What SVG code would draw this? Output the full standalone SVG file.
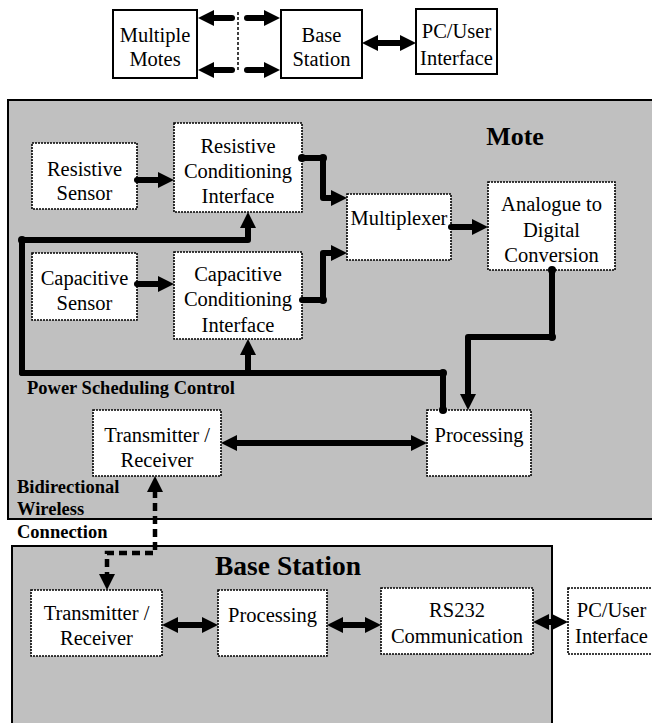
<svg xmlns="http://www.w3.org/2000/svg" width="652" height="723" viewBox="0 0 652 723">
<style>
.bg{fill:#c0c0c0;stroke:#000;stroke-width:2}
.sb{fill:#fff;stroke:#000;stroke-width:2}
.db{fill:#fff;stroke:#000;stroke-width:1.6;stroke-dasharray:2 1}
.t{font-family:"Liberation Serif","Times New Roman",serif;font-size:20.5px;fill:#000;text-anchor:middle}
.b{font-family:"Liberation Serif","Times New Roman",serif;font-weight:bold;fill:#000}
.c{fill:none;stroke:#000;stroke-width:6;stroke-linejoin:round;stroke-linecap:round}
.w{fill:none;stroke:#000;stroke-width:4.5;stroke-dasharray:8 5}
.thin{fill:none;stroke:#000;stroke-width:1.5;stroke-dasharray:3 2}
.dot{fill:#000}
</style>
<defs>
<marker id="ah" markerUnits="userSpaceOnUse" markerWidth="16" markerHeight="16" refX="2" refY="8" orient="auto-start-reverse" viewBox="0 0 16 16">
<path d="M0,0 L16,8 L0,16 z" fill="#000"/>
</marker>
</defs>
<rect class="bg" x="8" y="100" width="660" height="419"/>
<rect class="bg" x="12" y="546" width="540" height="200"/>
<text class="b" x="515" y="145" font-size="26" text-anchor="middle">Mote</text>
<text class="b" x="288" y="575" font-size="27.5" text-anchor="middle">Base Station</text>
<text class="b" x="27" y="394" font-size="18.5">Power Scheduling Control</text>
<text class="b" x="17" y="493" font-size="18.5">Bidirectional</text>
<text class="b" x="17" y="515" font-size="18.5">Wireless</text>
<text class="b" x="17" y="538" font-size="18.5">Connection</text>

<g id="top-motes"><rect class="sb" x="113" y="10" width="84" height="68"/><text class="t" x="155" y="42">Multiple</text><text class="t" x="155" y="66">Motes</text></g>
<g id="top-base"><rect class="sb" x="281" y="10" width="81" height="68"/><text class="t" x="321.5" y="42">Base</text><text class="t" x="321.5" y="66">Station</text></g>
<g id="top-pc"><rect class="sb" x="416" y="9" width="81" height="65"/><text class="t" x="456.5" y="38">PC/User</text><text class="t" x="456.5" y="65">Interface</text></g>

<g id="res-sensor"><rect class="db" x="32" y="143" width="105" height="66"/><text class="t" x="84.5" y="176">Resistive</text><text class="t" x="84.5" y="200">Sensor</text></g>
<g id="res-cond"><rect class="db" x="174" y="123" width="128" height="89"/><text class="t" x="238" y="153">Resistive</text><text class="t" x="238" y="178">Conditioning</text><text class="t" x="238" y="203">Interface</text></g>
<g id="cap-sensor"><rect class="db" x="32" y="253" width="105" height="67"/><text class="t" x="84.5" y="285">Capacitive</text><text class="t" x="84.5" y="310">Sensor</text></g>
<g id="cap-cond"><rect class="db" x="174" y="252" width="128" height="87"/><text class="t" x="238" y="281">Capacitive</text><text class="t" x="238" y="306">Conditioning</text><text class="t" x="238" y="332">Interface</text></g>
<g id="mux"><rect class="db" x="347" y="194" width="104" height="66"/><text class="t" x="399" y="225">Multiplexer</text></g>
<g id="adc"><rect class="db" x="488" y="182" width="127" height="88"/><text class="t" x="551.5" y="211">Analogue to</text><text class="t" x="551.5" y="237">Digital</text><text class="t" x="551.5" y="262">Conversion</text></g>
<g id="mote-proc"><rect class="db" x="427" y="410" width="104" height="66"/><text class="t" x="479" y="442">Processing</text></g>
<g id="mote-txrx"><rect class="db" x="93" y="410" width="128" height="66"/><text class="t" x="157" y="442">Transmitter /</text><text class="t" x="157" y="467">Receiver</text></g>

<g id="bs-txrx"><rect class="db" x="31" y="590" width="131" height="66"/><text class="t" x="96.5" y="620">Transmitter /</text><text class="t" x="96.5" y="645">Receiver</text></g>
<g id="bs-proc"><rect class="db" x="218" y="590" width="109" height="66"/><text class="t" x="272.5" y="622">Processing</text></g>
<g id="bs-rs232"><rect class="db" x="381" y="588" width="152" height="66"/><text class="t" x="457" y="617">RS232</text><text class="t" x="457" y="643">Communication</text></g>
<g id="bs-pc"><rect class="db" x="568" y="588" width="88" height="66"/><text class="t" x="611.5" y="617">PC/User</text><text class="t" x="611.5" y="643">Interface</text></g>

<g id="connectors">
<path class="c" d="M232,18 H212" marker-end="url(#ah)" stroke-linecap="butt"/>
<path class="c" d="M232,70 H212" marker-end="url(#ah)" stroke-linecap="butt"/>
<path class="thin" d="M238,12 V70"/>
<path class="c" d="M247,18 H266" marker-end="url(#ah)" stroke-linecap="butt"/>
<path class="c" d="M247,70 H266" marker-end="url(#ah)" stroke-linecap="butt"/>
<path class="c" d="M376,43 H402" marker-start="url(#ah)" marker-end="url(#ah)"/>

<path class="c" d="M137,180 H160" marker-end="url(#ah)"/>
<path class="c" d="M137,284 H160" marker-end="url(#ah)"/>
<path class="c" d="M302,158 H323 V198 H333" marker-end="url(#ah)"/>
<path class="c" d="M302,300 H323 V253 H333" marker-end="url(#ah)"/>
<path class="c" d="M451,227 H474" marker-end="url(#ah)"/>
<path class="c" d="M552,270 V337 H468 V396" marker-end="url(#ah)"/>
<path class="c" d="M22,373 V240 H248 V226" marker-end="url(#ah)"/>
<path class="c" d="M22,373 H443 V410"/>
<path class="c" d="M248,373 V353" marker-end="url(#ah)"/>
<path class="c" d="M235,443 H413" marker-start="url(#ah)" marker-end="url(#ah)"/>
<path class="w" d="M155,490 V553 H107 V576" marker-start="url(#ah)" marker-end="url(#ah)"/>

<path class="c" d="M176,625 H204" marker-start="url(#ah)" marker-end="url(#ah)"/>
<path class="c" d="M341,625 H367" marker-start="url(#ah)" marker-end="url(#ah)"/>
<path class="c" d="M547,622 H554" marker-start="url(#ah)" marker-end="url(#ah)"/>

<circle class="dot" cx="302" cy="158" r="4"/>
<circle class="dot" cx="323" cy="158" r="4"/>
<circle class="dot" cx="323" cy="300" r="4"/>
<circle class="dot" cx="22" cy="240" r="4"/>
<circle class="dot" cx="443" cy="373" r="4"/>
<circle class="dot" cx="443" cy="410" r="4"/>
<circle class="dot" cx="552" cy="270" r="4"/>
<circle class="dot" cx="552" cy="337" r="4"/>
</g>
</svg>
